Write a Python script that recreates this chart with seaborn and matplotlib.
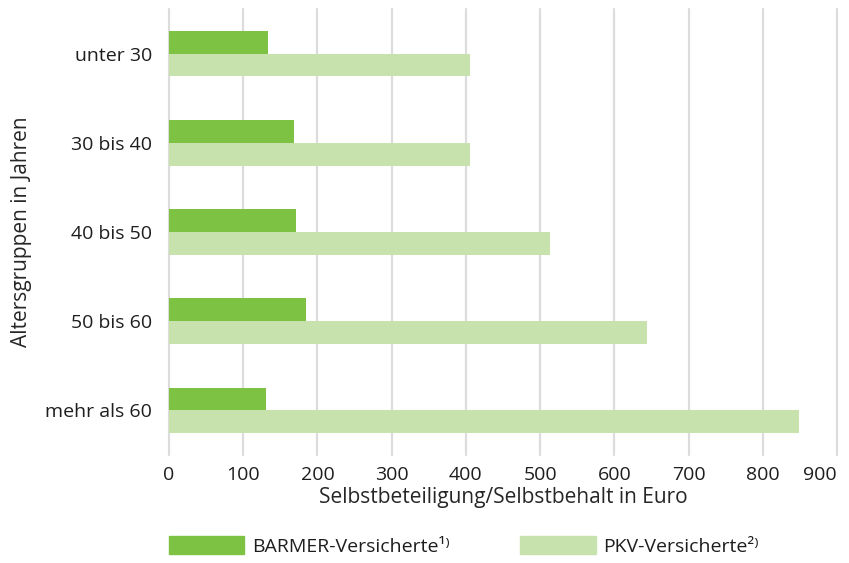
import pandas as pd
import numpy as np
import matplotlib.pyplot as plt
import seaborn as sns

# Werte
gruppen = ['unter 30', '30 bis 40', '40 bis 50', '50 bis 60', 'mehr als 60']
barmer = [134, 169, 171, 185, 131]
pkv = [405, 406, 513, 644, 849]
serien = ['BARMER-Versicherte¹⁾', 'PKV-Versicherte²⁾']
farben = ['#7DC243', '#C8E2AE']
x_ticks = [0, 100, 200, 300, 400, 500, 600, 700, 800, 900]

df = pd.DataFrame({
    'Gruppe': gruppen * 2,
    'Wert': barmer + pkv,
    'Serie': [serien[0]] * len(gruppen) + [serien[1]] * len(gruppen),
})

sns.set_theme(style='white')
plt.rcParams['font.family'] = ['Open Sans', 'DejaVu Sans']
plt.rcParams['text.color'] = '#1e1e1e'

fig = plt.figure(figsize=(8.49, 5.63), dpi=100)
ax = fig.add_axes([0.199, 0.192, 0.787, 0.792])

sns.barplot(data=df, y='Gruppe', x='Wert', hue='Serie', order=gruppen,
            hue_order=serien, palette=farben, width=0.51, saturation=1,
            orient='h', ax=ax, legend=True, linewidth=0)

ax.set_xlim(0, 900)
ax.set_ylim(4.5, -0.5)
ax.set_xticks(x_ticks)
ax.xaxis.grid(True, color='#dcdcdc', linewidth=1.6, clip_on=False)
ax.set_axisbelow(True)
for s in ax.spines.values():
    s.set_visible(False)

ax.tick_params(axis='x', length=0, pad=8, labelsize=14, labelcolor='#1e1e1e')
ax.tick_params(axis='y', length=0, pad=12, labelsize=14, labelcolor='#1e1e1e')
ax.get_xticklabels()[-1].set_horizontalalignment('right')
ax.set_xlabel('Selbstbeteiligung/Selbstbehalt in Euro', fontsize=15, labelpad=2)
ax.set_ylabel('Altersgruppen in Jahren', fontsize=15, labelpad=10)

ax.get_legend().remove()
handles = [plt.Rectangle((0, 0), 1, 1, color=c) for c in farben]
fig.legend(handles, serien, loc='lower left', bbox_to_anchor=(0.178, -0.018),
           ncol=2, frameon=False, fontsize=14, handlelength=3.9,
           handleheight=1.0, handletextpad=0.4, columnspacing=3.6)

fig.savefig('out.png', dpi=100)
